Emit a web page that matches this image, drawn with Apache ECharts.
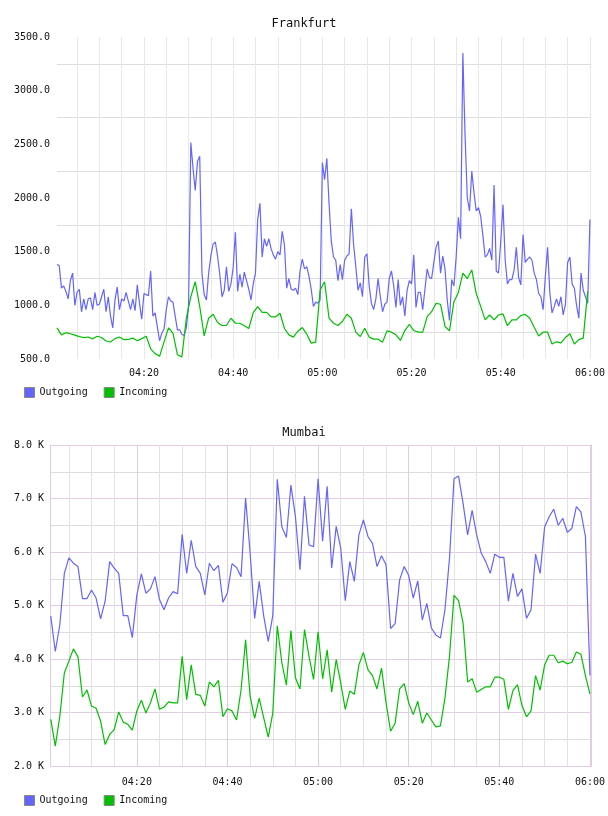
<!DOCTYPE html>
<html>
<head>
<meta charset="utf-8">
<title>Frankfurt / Mumbai</title>
<script src="https://cdn.jsdelivr.net/npm/echarts@6.0.0/dist/echarts.min.js"></script>
<style>
  html, body { margin: 0; padding: 0; background: #fff; }
  #main { width: 608px; height: 816px; }
</style>
</head>
<body>
<div id="main"></div>
<script>
// grid lines every 5 minutes, labels every 20 minutes
var minorTicks = ['04:05', '04:10', '04:15', '04:20', '04:25', '04:30', '04:35', '04:40',
  '04:45', '04:50', '04:55', '05:00', '05:05', '05:10', '05:15', '05:20', '05:25', '05:30',
  '05:35', '05:40', '05:45', '05:50', '05:55', '06:00'];
var majorTicks = ['04:20', '04:40', '05:00', '05:20', '05:40', '06:00'];

// Frankfurt: outgoing sampled every 30 s, incoming every 60 s, starting 04:00:30
var fraStart = '04:00:30';
var fraOutStep = 30;
var fraInStep = 60;
var fraRange = ['04:00:30', '06:00:15'];
var fraYRange = [500, 3500];

var fraOutgoing = [
  1380, 1370, 1160, 1180, 1130, 1060, 1230, 1300, 1000, 1120,
  1150, 940, 1060, 960, 1060, 1070, 960, 1120, 1000, 1010,
  1080, 1150, 940, 1080, 900, 790, 1050, 1170, 960, 1060,
  1040, 1120, 1040, 960, 1060, 950, 1190, 1020, 870, 1110,
  1100, 1090, 1320, 900, 930, 800, 670, 740, 780, 960,
  1080, 1040, 1030, 900, 772, 772, 730, 720, 790, 1000,
  2517, 2280, 2070, 2340, 2390, 1300, 1100, 1050, 1300, 1460,
  1570, 1590, 1460, 1290, 1080, 1140, 1360, 1130, 1200, 1350,
  1680, 1130, 1290, 1170, 1310, 1230, 1150, 1050, 1200, 1300,
  1800, 1950, 1450, 1620, 1550, 1620, 1530, 1470, 1430, 1500,
  1470, 1690, 1560, 1160, 1250, 1150, 1140, 1160, 1100, 1320,
  1430, 1340, 1360, 1270, 1150, 990, 1030, 1020, 1050, 2330,
  2170, 2370, 1950, 1600, 1450, 1420, 1230, 1380, 1240, 1420,
  1460, 1480, 1900, 1570, 1360, 1140, 1210, 1080, 1450, 1480,
  1180, 1020, 960, 1060, 1250, 1080, 940, 1010, 1030, 1250,
  1320, 1180, 980, 1240, 1000, 1080, 900, 1140, 1230, 1200,
  1470, 980, 1120, 1120, 960, 1150, 1340, 1260, 1250, 1400,
  1540, 1600, 1300, 1460, 1340, 1050, 860, 1240, 1180, 1450,
  1820, 1620, 3350, 2580, 2000, 1880, 2250, 2050, 1880, 1910,
  1830, 1650, 1450, 1470, 1530, 1420, 2120, 1320, 1300, 1600,
  1940, 1420, 1200, 1240, 1240, 1330, 1540, 1260, 1190, 1660,
  1400, 1430, 1450, 1420, 1300, 1240, 1110, 1080, 960, 1270,
  1540, 1120, 930, 990, 1060, 990, 1080, 910, 1010, 1400,
  1450, 1200, 1160, 1000, 880, 1300, 1140, 1080, 1020, 1800
];

var fraIncoming = [
  790, 725, 745, 735, 722, 708, 700, 705, 688, 712,
  700, 668, 658, 690, 705, 680, 682, 695, 670, 690,
  712, 595, 550, 525, 660, 790, 740, 540, 520, 880,
  1080, 1220, 990, 716, 880, 917, 840, 812, 812, 880,
  833, 833, 809, 784, 932, 988, 935, 935, 892, 892,
  926, 784, 725, 704, 759, 793, 732, 648, 657, 1142,
  1220, 880, 833, 812, 849, 917, 880, 750, 710, 787,
  704, 685, 685, 657, 762, 750, 725, 673, 765, 824,
  765, 750, 750, 895, 941, 1019, 1010, 803, 762, 1034,
  1120, 1300, 1250, 1330, 1110, 990, 865, 910, 865, 910,
  920, 810, 865, 865, 905, 915, 880, 795, 715, 750,
  750, 640, 660, 650, 700, 735, 640, 680, 695, 1130
];

// Mumbai: both series sampled every 60 s, starting 04:01
var mumStart = '04:01:00';
var mumStep = 60;
var mumRange = ['04:00:50', '06:00:15'];
var mumYRange = [2000, 8000];

var mumOutgoing = [
  4800, 4140, 4640, 5600, 5890, 5790, 5730, 5130, 5130, 5290,
  5140, 4750, 5080, 5820, 5700, 5600, 4810, 4810, 4400, 5200,
  5590, 5230, 5310, 5540, 5110, 4920, 5140, 5260, 5220, 6330,
  5600, 6220, 5730, 5600, 5200, 5790, 5650, 5750, 5060, 5240,
  5780, 5710, 5540, 7010, 5980, 4760, 5450, 4800, 4330, 4810,
  7360, 6470, 6270, 7250, 6660, 5670, 7040, 6130, 6100, 7370,
  6200, 7230, 5700, 6480, 6070, 5090, 5820, 5450, 6320, 6600,
  6290, 6160, 5730, 5930, 5760, 4570, 4660, 5480, 5730, 5560,
  5140, 5460, 4730, 5040, 4580, 4450, 4390, 4920, 5880, 7370,
  7420, 6910, 6320, 6780, 6320, 5980, 5820, 5600, 5960, 5900,
  5900, 5080, 5600, 5170, 5310, 4760, 4920, 5960, 5600, 6470,
  6660, 6800, 6500, 6630, 6370, 6440, 6850, 6750, 6290, 3690
];

var mumIncoming = [
  2870, 2370, 2930, 3740, 3960, 4190, 4040, 3290, 3420, 3120,
  3080, 2840, 2400, 2590, 2680, 3010, 2820, 2780, 2670, 3030,
  3230, 2990, 3180, 3440, 3060, 3100, 3200, 3180, 3180, 4050,
  3240, 3890, 3340, 3320, 3120, 3570, 3480, 3600, 2920, 3070,
  3030, 2860, 3420, 4360, 3300, 2890, 3270, 2900, 2540, 2990,
  4620, 3930, 3510, 4530, 3650, 3440, 4550, 4050, 3620, 4510,
  3630, 4170, 3380, 3990, 3550, 3060, 3400, 3340, 3890, 4120,
  3800, 3690, 3440, 3830, 3180, 2650, 2800, 3440, 3540, 3180,
  2960, 3210, 2800, 2990, 2860, 2730, 2750, 3270, 4050, 5190,
  5090, 4670, 3570, 3630, 3380, 3430, 3480, 3480, 3660, 3660,
  3620, 3060, 3410, 3520, 3130, 2920, 3030, 3690, 3420, 3890,
  4070, 4070, 3930, 3960, 3910, 3940, 4130, 4090, 3690, 3350
];

var seriesNames = ['Outgoing', 'Incoming'];
var colorOut = '#6464ff';
var colorIn = '#00c000';
var mono = 'DejaVu Sans Mono';

// x values are minutes since midnight
function mins(hms) {
  var p = hms.split(':');
  return (+p[0]) * 60 + (+p[1]) + (p[2] ? (+p[2]) / 60 : 0);
}
function toPairs(start, stepSec, values) {
  var m0 = mins(start);
  return values.map(function (v, i) { return [m0 + i * stepSec / 60, v]; });
}
function pad(n) { return n < 10 ? '0' + n : '' + n; }
function timeLabel(m) {
  var r = Math.round(m);
  return pad(Math.floor(r / 60)) + ':' + pad(r % 60);
}

var minorValues = minorTicks.map(mins);
var majorValues = majorTicks.map(mins);

var chart = echarts.init(document.getElementById('main'), null, { renderer: 'canvas' });

var option = {
  animation: false,
  backgroundColor: '#fff',
  title: [
    { text: 'Frankfurt', left: 'center', top: 13,
      textStyle: { fontFamily: mono, fontSize: 12, fontWeight: 'normal', color: '#111' } },
    { text: 'Mumbai', left: 'center', top: 422,
      textStyle: { fontFamily: mono, fontSize: 12, fontWeight: 'normal', color: '#111' } }
  ],
  legend: [
    { left: 24, top: 387, padding: 0, itemWidth: 10, itemHeight: 10, itemGap: 16, icon: 'rect',
      data: seriesNames, itemStyle: { borderColor: '#888', borderWidth: 1 },
      textStyle: { fontFamily: mono, fontSize: 10, color: '#111' } },
    { left: 24, top: 795, padding: 0, itemWidth: 10, itemHeight: 10, itemGap: 16, icon: 'rect',
      data: seriesNames, itemStyle: { borderColor: '#888', borderWidth: 1 },
      textStyle: { fontFamily: mono, fontSize: 10, color: '#111' } }
  ],
  grid: [
    { left: 57, right: 15, top: 37, height: 322 },
    { left: 50, right: 15, top: 445, height: 321 }
  ],
  xAxis: [
    { type: 'value', gridIndex: 0, min: mins(fraRange[0]), max: mins(fraRange[1]),
      axisLine: { show: false }, axisTick: { show: false, customValues: minorValues },
      axisLabel: { customValues: majorValues, formatter: timeLabel, fontFamily: mono, fontSize: 10, color: '#111', margin: 9 },
      splitLine: { show: true, lineStyle: { color: '#e8e8e8', width: 1 } } },
    { type: 'value', gridIndex: 1, min: mins(mumRange[0]), max: mins(mumRange[1]),
      axisLine: { show: false }, axisTick: { show: false, customValues: minorValues },
      axisLabel: { customValues: majorValues, formatter: timeLabel, fontFamily: mono, fontSize: 10, color: '#111', margin: 11 },
      splitLine: { show: true, lineStyle: { color: '#e2e2e2', width: 1 } } },
    { type: 'value', gridIndex: 1, min: mins(mumRange[0]), max: mins(mumRange[1]),
      axisLine: { show: false }, axisTick: { show: false, customValues: majorValues },
      axisLabel: { show: false },
      splitLine: { show: true, lineStyle: { color: '#e3cbe3', width: 1 } } }
  ],
  yAxis: [
    { type: 'value', gridIndex: 0, min: fraYRange[0], max: fraYRange[1], interval: 250,
      axisLine: { show: false }, axisTick: { show: false },
      axisLabel: { fontFamily: mono, fontSize: 10, color: '#111', margin: 7,
        formatter: function (v) { return v % 500 === 0 ? v.toFixed(1) : ''; } },
      splitLine: { show: true, lineStyle: { color: ['rgba(0,0,0,0)', '#dddddd'], width: 1 } } },
    { type: 'value', gridIndex: 1, min: mumYRange[0], max: mumYRange[1], interval: 500,
      axisLine: { show: true, lineStyle: { color: '#e3cbe3' } }, axisTick: { show: false },
      axisLabel: { fontFamily: mono, fontSize: 10, color: '#111', margin: 6,
        formatter: function (v) { return v % 1000 === 0 ? (v / 1000).toFixed(1) + ' K' : ''; } },
      splitLine: { show: true, lineStyle: { color: ['#e3cbe3', '#dddddd'], width: 1 } } },
    { type: 'value', gridIndex: 1, position: 'right', min: mumYRange[0], max: mumYRange[1],
      axisLine: { show: true, lineStyle: { color: '#e3cbe3' } }, axisTick: { show: false },
      axisLabel: { show: false }, splitLine: { show: false } }
  ],
  series: [
    { name: 'Outgoing', type: 'line', xAxisIndex: 0, yAxisIndex: 0, showSymbol: false, symbol: 'none',
      color: colorOut, lineStyle: { color: colorOut, width: 1.2 }, data: toPairs(fraStart, fraOutStep, fraOutgoing) },
    { name: 'Incoming', type: 'line', xAxisIndex: 0, yAxisIndex: 0, showSymbol: false, symbol: 'none',
      color: colorIn, lineStyle: { color: colorIn, width: 1.2 }, data: toPairs(fraStart, fraInStep, fraIncoming) },
    { name: 'Outgoing', type: 'line', xAxisIndex: 1, yAxisIndex: 1, showSymbol: false, symbol: 'none',
      color: colorOut, lineStyle: { color: colorOut, width: 1.2 }, data: toPairs(mumStart, mumStep, mumOutgoing) },
    { name: 'Incoming', type: 'line', xAxisIndex: 1, yAxisIndex: 1, showSymbol: false, symbol: 'none',
      color: colorIn, lineStyle: { color: colorIn, width: 1.2 }, data: toPairs(mumStart, mumStep, mumIncoming) }
  ]
};

chart.setOption(option);
window.onresize = function () { chart.resize(); };
</script>
</body>
</html>
